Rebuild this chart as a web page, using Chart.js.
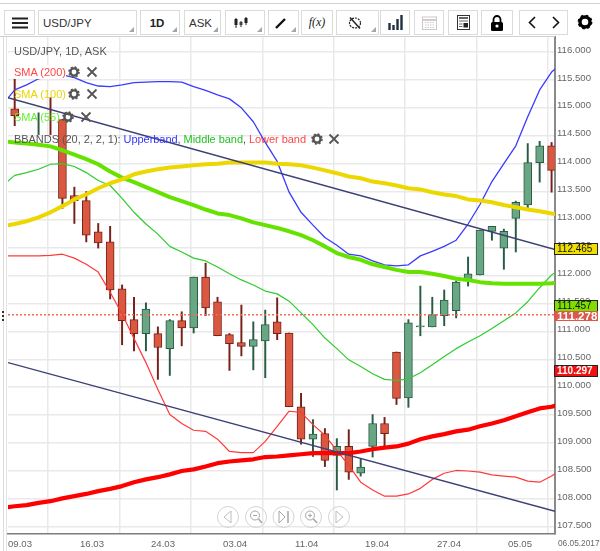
<!DOCTYPE html>
<html><head><meta charset="utf-8">
<style>
html,body{margin:0;padding:0;background:#fff;width:600px;height:551px;overflow:hidden;font-family:"Liberation Sans",Arial,sans-serif}
#wrap{position:relative;width:600px;height:551px}
canvas{position:absolute;left:0;top:0}
.abs{position:absolute}
.btn{position:absolute;top:10px;height:23px;border:1px solid #d8dcdc;background:#fff;box-sizing:content-box;display:flex;align-items:center;justify-content:center;font-size:11.5px;color:#222}
.btn .c{position:absolute;right:2px;bottom:2px;width:0;height:0;border-left:5px solid transparent;border-bottom:5px solid #a5a5a5}
.lg{position:absolute;font-size:11px;line-height:14px;white-space:pre;height:14px}
svg{position:absolute;overflow:visible}
</style>
<script src="https://cdn.jsdelivr.net/npm/chart.js@4"></script>
</head><body><div id="wrap">
<canvas id="c" width="600" height="551"></canvas>

<div class="abs" style="left:0;top:0;width:600px;height:36px;background:#fff"></div>
<div class="abs" style="left:0;top:3px;width:600px;height:1px;background:#cfd2d2"></div>
<div class="abs" style="left:0;top:36px;width:555px;height:1px;background:#d0d0d0"></div>
<div class="abs" style="left:3px;top:37px;width:1px;height:514px;background:#dcdcdc"></div>
<div class="abs" style="left:6px;top:37px;width:1px;height:514px;background:#e4e4e4"></div>
<div class="abs" style="left:2px;top:311px;width:2px;height:2px;background:#333"></div>
<div class="abs" style="left:2px;top:315px;width:2px;height:2px;background:#333"></div>
<div class="abs" style="left:2px;top:319px;width:2px;height:2px;background:#333"></div>

<div class="btn" style="left:4px;width:29px"><svg width="16" height="12" style="position:static"><path d="M0 1.5H16M0 6H16M0 10.5H16" stroke="#222" stroke-width="1.8"/></svg></div>
<div class="btn" style="left:38px;width:97px;justify-content:flex-start;padding-left:0"><span style="margin-left:4px;color:#333">USD/JPY</span><i class="c"></i></div>
<div class="btn" style="left:140px;width:38px;font-weight:bold;color:#222"><span style="margin-right:6px">1D</span><i class="c"></i></div>
<div class="btn" style="left:184px;width:35px;color:#333"><span style="margin-right:4px">ASK</span><i class="c"></i></div>
<div class="btn" style="left:225px;width:38px"><svg width="14" height="12" style="position:static;margin-right:8px"><path d="M2 1V11M7 4V10M12 0V8" stroke="#222" stroke-width="1"/><rect x="0.5" y="2" width="3" height="6" fill="#222"/><rect x="5.5" y="5" width="3" height="3" fill="#444"/><rect x="10.5" y="1" width="3" height="5" fill="#222"/></svg><i class="c"></i></div>
<div class="btn" style="left:268px;width:29px"><svg width="12" height="12" style="position:static;margin-right:6px"><path d="M1 11L10 2" stroke="#111" stroke-width="2.4"/></svg><i class="c"></i></div>
<div class="btn" style="left:301px;width:30px;font-family:'Liberation Serif',serif;font-style:italic;font-size:12px;color:#222">f(x)</div>
<div class="btn" style="left:336px;width:41px"><svg width="14" height="14" style="position:static;margin-right:6px"><ellipse cx="7" cy="7" rx="5.5" ry="5" fill="none" stroke="#222" stroke-width="1.2" stroke-dasharray="2 1"/><path d="M2 1.5L12 12.5" stroke="#222" stroke-width="1.5"/></svg><i class="c"></i></div>
<div class="btn" style="left:380px;width:28px"><svg width="15" height="15" style="position:static"><path d="M1.5 15V8M5.5 15V10M9.5 15V4M13.5 15V0" stroke="#1f2f44" stroke-width="2.4"/></svg></div>
<div class="btn" style="left:414px;width:28px"><svg width="15" height="15" style="position:static"><rect x="0.5" y="2" width="14" height="12.5" fill="none" stroke="#c9c9c9"/><path d="M0.5 5H14.5" stroke="#d8c8c8" stroke-width="2"/><path d="M3 7.5H12M3 10H12M3 12.5H12" stroke="#c9c9c9" stroke-dasharray="1.5 1"/></svg></div>
<div class="btn" style="left:448px;width:28px"><svg width="13" height="15" style="position:static"><rect x="0.5" y="0.5" width="12" height="14" fill="#fff" stroke="#333"/><path d="M2 3H11" stroke="#333" stroke-width="1.5"/><path d="M2 6H11" stroke="#666"/><rect x="6.5" y="8" width="4.5" height="4.5" fill="#222"/><path d="M2 9H5.5M2 11.5H5.5" stroke="#666"/></svg></div>
<div class="btn" style="left:481px;width:30px"><svg width="12" height="16" style="position:static"><path d="M2.5 7V4.5a3.5 3.5 0 0 1 7 0V7" fill="none" stroke="#000" stroke-width="1.8"/><rect x="0" y="7" width="12" height="9" rx="1.5" fill="#000"/><circle cx="6" cy="11" r="1.6" fill="#fff"/></svg></div>
<div class="btn" style="left:519px;width:24px"><svg width="8" height="13" style="position:static"><path d="M7 1L1.5 6.5L7 12" fill="none" stroke="#111" stroke-width="1.6"/></svg></div>
<div class="btn" style="left:544px;width:23px;border-left:none"><svg width="8" height="13" style="position:static"><path d="M1 1L6.5 6.5L1 12" fill="none" stroke="#111" stroke-width="1.6"/></svg></div>
<svg width="16" height="16" style="left:577px;top:14px"><g transform="translate(8,8)"><circle r="5" fill="none" stroke="#000" stroke-width="3.4"/><circle r="6.2" fill="none" stroke="#000" stroke-width="2.4" stroke-dasharray="2.4 2.47"/></g></svg>

<div class="lg" style="left:14px;top:44px;color:#555">USD/JPY, 1D, ASK</div>
<div class="lg" style="left:14px;top:65px;color:#ff4646;background:#fff">SMA (200)</div>
<div class="lg" style="left:14px;top:87px;color:#ecd400">SMA (100)</div>
<div class="lg" style="left:14px;top:110px;color:#66ee33">SMA (55)</div>
<div class="lg" style="left:14px;top:132px;color:#555;letter-spacing:-0.05px">BBANDS (20, 2, 2, 1): <span style="color:#3535ff">Upperband</span>, <span style="color:#22c322">Middle band</span>, <span style="color:#ff4646">Lower band</span></div>
<svg id="icons" width="600" height="200" style="left:0;top:0"></svg>

<svg width="600" height="40" style="left:0;top:497px" fill="none" stroke="#d4d4d4" stroke-width="1">
<circle cx="228" cy="20" r="10.5"/><circle cx="256" cy="20" r="10.5"/><circle cx="283.500" cy="20" r="10.5"/><circle cx="311" cy="20" r="10.5"/><circle cx="339" cy="20" r="10.5"/>
<path d="M231 14V26L224 20Z" stroke="#bdbdbd"/>
<circle cx="255" cy="18.500" r="4.500" stroke="#a5a5a5"/><path d="M258.500 22L262 26" stroke="#a5a5a5" stroke-width="1.5"/><path d="M253 18.500H257" stroke="#a5a5a5"/>
<path d="M279 14V26L285 20Z" stroke="#a5a5a5"/><path d="M288 14V26" stroke="#a5a5a5" stroke-width="1.5"/>
<circle cx="310" cy="18.500" r="4.500" stroke="#a5a5a5"/><path d="M313.500 22L317 26" stroke="#a5a5a5" stroke-width="1.5"/><path d="M308 18.500H312M310 16.500V20.500" stroke="#a5a5a5"/>
<path d="M336 14V26L343 20Z" stroke="#bdbdbd"/>
</svg>
</div>
<script>
const dateLabels=["09.03","16.03","24.03","03.04","11.04","19.04","27.04","05.05"];
const gridIndex=[-0.226,5.81,11.76,17.8,23.83,29.7,35.73,41.68];
const lastDateLabel="06.05.2017";
const xMin=-0.5616,xMax=45.286;
const yMin=107.373,yMax=116.267;

const openVals=[114.98,null,null,null,114.79,113.43,113.34,112.78,112.60,111.76,111.21,110.96,110.96,110.69,111.19,111.06,111.97,111.53,110.94,110.80,110.73,110.83,111.17,110.97,109.65,109.07,109.17,108.78,108.94,108.46,108.94,109.35,110.63,109.81,111.08,111.08,111.28,111.37,111.92,112.01,112.79,112.49,113.02,113.26,114.02,114.32];
const closeVals=[114.86,null,null,null,113.38,113.34,112.72,112.58,111.74,111.19,110.96,111.40,110.71,111.19,111.06,111.97,111.42,110.92,110.78,110.73,110.85,111.12,110.96,109.65,109.07,109.16,108.69,108.94,108.48,108.57,109.35,109.17,109.80,111.15,111.10,111.30,111.56,111.88,112.03,112.81,112.88,112.79,113.31,114.02,114.32,113.88];
const highVals=[115.52,null,114.91,115.18,114.79,113.58,113.50,112.93,112.88,111.83,111.61,111.51,111.08,111.21,111.35,111.97,112.22,111.61,110.96,111.47,111.17,111.38,111.60,110.97,109.89,109.42,109.26,109.08,109.24,108.71,109.51,109.46,110.63,111.21,111.81,111.61,111.74,111.90,112.33,112.81,112.88,112.83,113.33,114.36,114.40,114.38];
const lowVals=[114.68,null,114.52,114.52,113.20,112.93,112.60,112.49,111.58,110.76,110.65,110.65,110.14,110.21,110.74,110.97,111.28,110.92,110.30,110.56,110.31,110.17,110.85,109.65,108.98,108.76,108.58,108.16,108.35,108.41,108.75,108.94,109.69,109.64,110.92,111.08,111.10,111.24,111.81,112.01,112.63,112.11,112.42,113.20,113.67,113.49];
const wickUp=[false,null,true,false,false,false,false,false,false,false,false,true,false,true,false,true,false,false,false,false,true,true,false,false,false,true,false,true,false,true,true,false,false,true,true,true,true,true,true,true,true,true,true,true,true,false];

const upperBand=[115.06,115.32,115.41,115.52,115.57,115.59,115.54,115.45,115.39,115.38,115.41,115.45,115.46,115.47,115.47,115.46,115.38,115.31,115.23,115.16,115.00,114.75,114.38,114.04,113.49,113.13,112.90,112.68,112.54,112.38,112.35,112.26,112.19,112.17,112.19,112.35,112.43,112.52,112.63,112.92,113.27,113.68,114.00,114.32,114.84,115.32,115.64,115.82];
const middleBand=[113.61,113.79,113.84,113.90,113.99,114.00,113.95,113.84,113.70,113.61,113.38,113.13,112.92,112.74,112.52,112.42,112.31,112.26,112.15,112.03,111.92,111.83,111.72,111.67,111.54,111.33,111.12,110.88,110.69,110.49,110.37,110.24,110.14,110.12,110.15,110.26,110.40,110.55,110.69,110.81,110.92,111.05,111.19,111.33,111.53,111.78,112.01,112.15];
const lowerBand=[112.35,112.35,112.35,112.35,112.36,112.38,112.31,112.20,112.06,111.70,111.31,110.87,110.44,109.96,109.51,109.35,109.23,109.21,109.07,108.85,108.83,108.83,109.03,109.30,109.57,109.55,109.33,109.14,108.87,108.60,108.30,108.16,108.05,108.05,108.09,108.19,108.35,108.46,108.51,108.50,108.48,108.43,108.41,108.39,108.32,108.30,108.41,108.55];
const sma55=[114.40,114.38,114.36,114.34,114.31,114.24,114.16,114.08,113.99,113.86,113.75,113.67,113.58,113.49,113.40,113.33,113.26,113.18,113.11,113.08,113.02,112.95,112.90,112.85,112.79,112.72,112.63,112.52,112.40,112.33,112.28,112.20,112.15,112.10,112.06,112.06,112.03,111.99,111.94,111.92,111.88,111.86,111.85,111.85,111.85,111.85,111.86,111.88];
const sma100=[112.88,112.92,112.97,113.04,113.13,113.24,113.36,113.45,113.56,113.65,113.72,113.81,113.86,113.90,113.93,113.95,113.97,113.99,114.00,114.02,114.02,114.02,114.02,114.00,113.99,113.97,113.93,113.88,113.83,113.77,113.74,113.68,113.65,113.61,113.56,113.54,113.49,113.45,113.42,113.36,113.34,113.31,113.26,113.22,113.18,113.15,113.11,113.08];
const sma200=[107.84,107.87,107.89,107.93,107.96,108.01,108.05,108.09,108.14,108.18,108.23,108.30,108.35,108.39,108.44,108.50,108.53,108.58,108.64,108.67,108.69,108.71,108.75,108.76,108.78,108.80,108.82,108.82,108.82,108.82,108.85,108.89,108.92,108.94,108.99,109.07,109.12,109.16,109.21,109.24,109.30,109.35,109.41,109.48,109.55,109.62,109.65,109.71];
const trendUpper=[115.18,112.465];
const trendLower=[110.44,107.78];
const currentLine=[111.295,111.295];
const tagTexts=["112.465","111.457","111.278","110.297"];
const tagVals=[112.465,111.457,111.278,110.297];
const tagFills=["#efdf00","#7fe000","#d9594a","#f01010"];
const tagInk=["#111","#111","#fff","#fff"];

const rows=openVals.map((o,i)=>({i,o,c:closeVals[i],h:highVals[i],l:lowVals[i],up:wickUp[i]}));
const RED_F="#d9583f",RED_B="#76201a",GRN_F="#69a683",GRN_B="#2a5c44";
const lineSet=(arr,color,w)=>({type:'line',data:arr.map((v,k)=>({x:k-1,y:v})),borderColor:color,borderWidth:w,pointRadius:0,tension:0,order:1,clip:0,borderJoinStyle:'round',borderCapStyle:'round'});
const twoPt=(arr,color,w,dash)=>({type:'line',data:[{x:xMin,y:arr[0]},{x:xMax,y:arr[1]}],borderColor:color,borderWidth:w,pointRadius:0,order:0,borderDash:dash||[],clip:0});

const tagPlugin={id:'tags',afterDraw(ch){
 const g=ch.ctx,y=ch.scales.y;
 g.save();
 g.fillStyle='#666';g.textBaseline='middle';g.textAlign='left';
 g.font='8.3px "Liberation Sans",Arial,sans-serif';
 g.fillText(lastDateLabel,558,544);
 tagTexts.forEach((t,k)=>{
  const p=Math.round(y.getPixelForValue(tagVals[k]));
  const big=k===2;
  const top=big?p-5:p-5.5,h=big?10:11;
  g.fillStyle=tagFills[k];g.fillRect(554,top,44,h);
  if(!big){g.strokeStyle='#222';g.lineWidth=1;g.strokeRect(554.5,top,43,h);}
  g.fillStyle=tagInk[k];
  g.font=(k===3||big?'bold ':'')+(big?'11.5':'10')+'px "Liberation Sans",Arial,sans-serif';
  g.fillText(t,557,p+0.5);
 });
 g.restore();
}};

new Chart(document.getElementById('c'),{
 type:'bar',
 data:{datasets:[
  {type:'bar',grouped:false,order:11,barThickness:1.3,
   data:rows.filter(r=>r.h!==null).map(r=>({x:r.i,y:[r.h,r.l],up:r.up})),
   backgroundColor:c=>c.raw.up?GRN_B:RED_B,borderWidth:0},
  {type:'bar',grouped:false,order:10,barThickness:8,
   data:rows.filter(r=>r.o!==null).map(r=>({x:r.i,y:[r.o,r.c],up:r.up})),
   backgroundColor:c=>c.raw.up?GRN_F:RED_F,borderColor:c=>c.raw.up?GRN_B:RED_B,borderWidth:1,borderSkipped:false},
  lineSet(sma200,'#ff0000',4.2),
  lineSet(sma100,'#ecd800',4),
  lineSet(sma55,'#66e200',4),
  lineSet(upperBand,'#3a3aff',1.3),
  lineSet(middleBand,'#2ecc2e',1.2),
  lineSet(lowerBand,'#ff3a3a',1.2),
  twoPt(trendUpper,'#3c4074',1.4),
  twoPt(trendLower,'#3c4074',1.4),
  twoPt(currentLine,'#ee6a5e',1.5,[2,2])
 ]},
 options:{
  responsive:false,animation:false,devicePixelRatio:1,
  layout:{padding:{left:8,top:37,right:0,bottom:0}},
  plugins:{legend:{display:false},tooltip:{enabled:false}},
  scales:{
   x:{type:'linear',min:xMin,max:xMax,offset:false,
     afterBuildTicks(s){s.ticks=gridIndex.map(v=>({value:v}));},
     afterFit(s){s.height=17;s.paddingLeft=0;s.paddingRight=0;},
     grid:{color:'#e9e9e9',lineWidth:1.5,drawTicks:false},
     border:{display:true,color:'#7d7d7d',width:1.5},
     ticks:{autoSkip:false,maxRotation:0,minRotation:0,align:'start',labelOffset:-4,padding:5,color:'#666',
       font:{family:'"Liberation Sans",Arial,sans-serif',size:9.6},
       callback:(v,i)=>dateLabels[i]}},
   y:{type:'linear',position:'right',min:yMin,max:yMax,
     afterFit(s){s.width=45;s.paddingTop=0;s.paddingBottom=0;},
     grid:{color:'#e9e9e9',lineWidth:1.5,drawTicks:false},
     border:{display:true,color:'#8a8a8a',width:2},
     ticks:{stepSize:0.5,includeBounds:false,padding:2,labelOffset:-2,color:'#666',
       font:{family:'"Liberation Sans",Arial,sans-serif',size:9.6},
       callback:v=>v.toFixed(3)}}
  }
 },
 plugins:[tagPlugin]
});

const iconRows=[[74,72],[92,72],[74,94],[92,94],[68,117],[86,117],[317,139],[334,139]];
let s='';
iconRows.forEach((p,i)=>{
 if(i%2===0){
  s+=`<g transform="translate(${p[0]},${p[1]})" fill="none" stroke="#555"><circle r="3.6" stroke-width="2.4"/><circle r="5" stroke-width="1.6" stroke-dasharray="2 1.93"/></g>`;
 }else{
  s+=`<path transform="translate(${p[0]},${p[1]})" d="M-4.5 -4.500L4.500 4.500M-4.500 4.500L4.500 -4.500" stroke="#555" stroke-width="1.8"/>`;
 }
});
document.getElementById('icons').innerHTML=s;
</script>
</body></html>
